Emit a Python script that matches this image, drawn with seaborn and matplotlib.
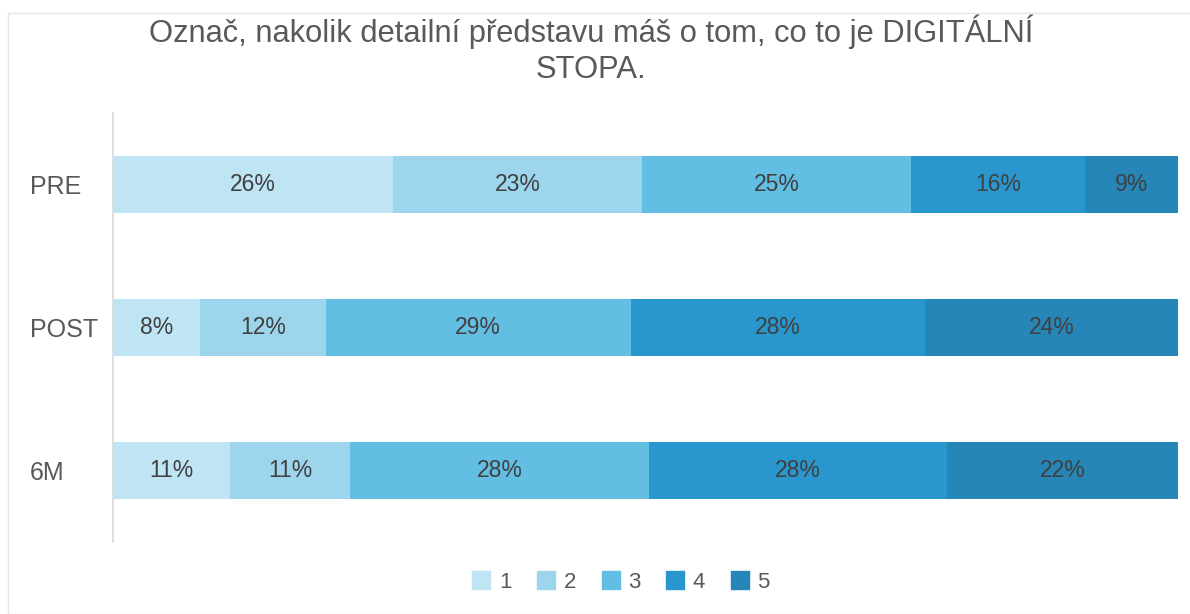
import numpy as np
import pandas as pd
import matplotlib
matplotlib.use("Agg")
import matplotlib.pyplot as plt
from matplotlib.lines import Line2D
from matplotlib.patches import Rectangle
import seaborn as sns

categories = ["PRE", "POST", "6M"]
series_names = ["1", "2", "3", "4", "5"]
s1 = [26.3, 8.2, 11.0]
s2 = [23.4, 11.8, 11.3]
s3 = [25.2, 28.6, 28.0]
s4 = [16.4, 27.6, 28.0]
s5 = [8.7, 23.8, 21.7]
title = "Označ, nakolik detailní představu máš o tom, co to je DIGITÁLNÍ\nSTOPA."
colors = ["#bfe4f3", "#9dd6ec", "#63bee3", "#2996cd", "#2586b7"]

sns.set_theme(style="white")
plt.rcParams["font.family"] = ["Liberation Sans", "DejaVu Sans"]

series = [s1, s2, s3, s4, s5]
df = pd.DataFrame({name: vals for name, vals in zip(series_names, series)}, index=categories)
cum = df.cumsum(axis=1)

fig = plt.figure(figsize=(11.9, 6.14), dpi=100)
fig.patches.append(Rectangle((8 / 1190, 0), 2, 1 - 13 / 614, transform=fig.transFigure,
                             facecolor="none", edgecolor="#e6e6e6", lw=1.0))
ax = fig.add_axes([113 / 1190, 1 - 542 / 614, (1178 - 113) / 1190, (542 - 113) / 614])

for i in range(len(series_names) - 1, -1, -1):
    name = series_names[i]
    sns.barplot(x=cum[name].values, y=categories, color=colors[i], orient="h",
                width=0.4, saturation=1, linewidth=0, ax=ax, order=categories)

for i, name in enumerate(series_names):
    for j, cat in enumerate(categories):
        v = df.loc[cat, name]
        center = cum.loc[cat, name] - v / 2
        ax.text(center, j, f"{v:.0f}%", ha="center", va="center",
                fontsize=16.5, color="#404040")

ax.set_xlim(0, 100)
ax.set_ylim(2.5, -0.5)
ax.set_xticks([])
ax.set_xlabel("")
ax.set_ylabel("")
for sp in ["top", "right", "bottom"]:
    ax.spines[sp].set_visible(False)
ax.spines["left"].set_color("#d9d9d9")
ax.spines["left"].set_linewidth(1.2)
ax.tick_params(axis="y", length=0, pad=60, labelsize=18, labelcolor="#595959")
for lbl in ax.get_yticklabels():
    lbl.set_horizontalalignment("left")

fig.text(591 / 1190, 1 - 50 / 614, title, ha="center", va="center",
         fontsize=22.2, color="#595959", linespacing=1.25)

handles = [Line2D([0], [0], marker="s", linestyle="", markersize=13,
                  markerfacecolor=c, markeredgecolor=c) for c in colors]
fig.legend(handles, series_names, loc="center", bbox_to_anchor=(620 / 1190, 1 - 582 / 614),
           ncol=5, frameon=False, fontsize=16, labelcolor="#595959",
           handlelength=1.0, handletextpad=0.3, columnspacing=1.05)

fig.savefig("out.png", dpi=100)
